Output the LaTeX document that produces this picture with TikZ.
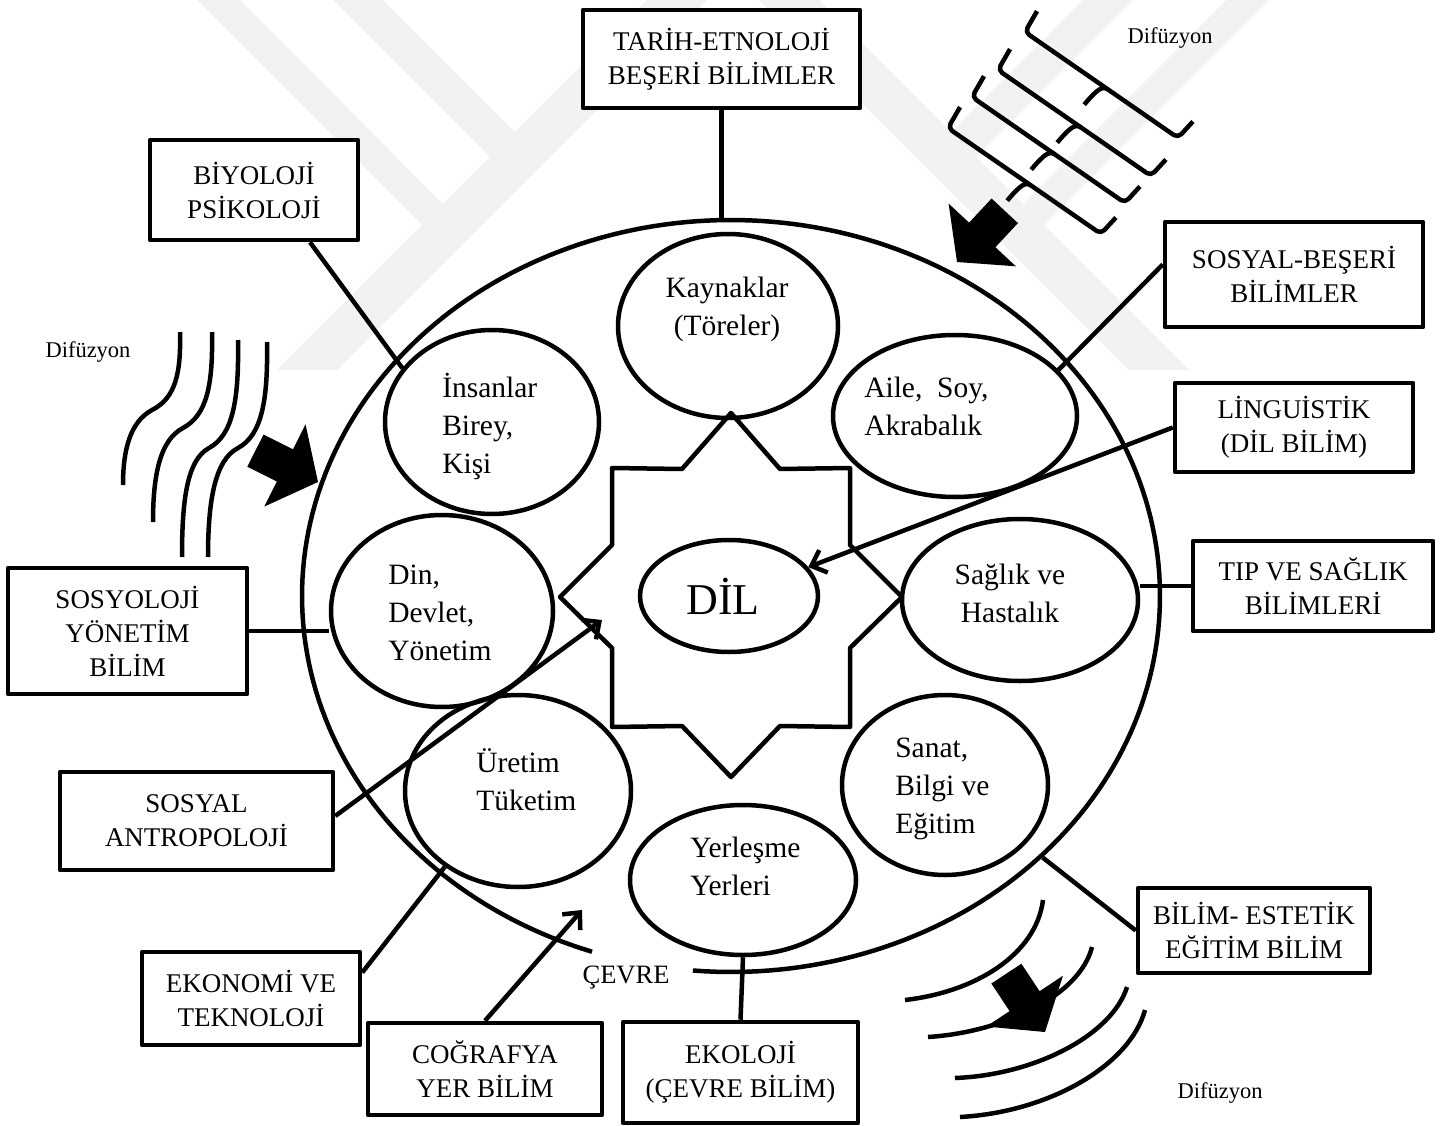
\documentclass[tikz,border=0pt]{standalone}
\usepackage{fontspec}
\setmainfont{Liberation Serif}
\usetikzlibrary{shapes.geometric,arrows.meta,calc}

% solid block arrow: tip at #1, pointing in direction #2 (degrees)
\newcommand{\dfarrow}[2]{%
  \fill[shift={#1}, rotate=#2] (0pt,0pt) -- (-37pt,46pt) -- (-37pt,18pt) -- (-70pt,18pt)
    -- (-70pt,-18pt) -- (-37pt,-18pt) -- (-37pt,-46pt) -- cycle;}
% square brace used for the diffusion wave front, corner at #1
\newcommand{\dfbrace}[1]{%
  \draw[shift={#1}, rotate=-34.7, rounded corners=5pt]
    (-2pt,24pt) -- (0pt,0pt) -- (186pt,0pt) -- (189pt,22pt);
  \draw[shift={#1}, rotate=-34.7]
    (101pt,0pt) .. controls (94pt,0pt) and (92pt,-6pt) .. (90pt,-26pt);}

\begin{document}
\begin{tikzpicture}[x=1pt, y=-1pt, line width=4.5pt, line join=round,
  box/.style={draw, fill=white, rectangle, inner sep=0pt, align=center,
    font=\fontsize{27}{34}\selectfont},
  oval/.style={draw, ellipse, inner sep=0pt},
  otext/.style={inner sep=0pt, align=left, font=\fontsize{29.5}{38}\selectfont},
  ctext/.style={inner sep=0pt, align=center, font=\fontsize{29.5}{38}\selectfont},
  dftext/.style={inner sep=0pt, font=\fontsize{22.5}{27}\selectfont},
  arr/.style={-{Straight Barb[length=13pt,width=24pt]}},
  wmark/.style={fill=black!5, draw=none}]

\useasboundingbox (0,0) rectangle (1443,1126);
\fill[white] (0,0) rectangle (1443,1126);

% faint background emblem (symmetric about x = 733)
\fill[wmark] (197,0) -- (240,0) -- (443,204) -- (422,225) -- cycle;
\fill[wmark] (333,0) -- (383,0) -- (515,132) -- (490,157) -- cycle;
\fill[wmark] (277,370) -- (337,370) -- (707,0) -- (647,0) -- cycle;
\fill[wmark] (1269,0) -- (1226,0) -- (1023,204) -- (1044,225) -- cycle;
\fill[wmark] (1133,0) -- (1083,0) -- (951,132) -- (976,157) -- cycle;
\fill[wmark] (1189,370) -- (1129,370) -- (759,0) -- (819,0) -- cycle;

% environment (outer ellipse, open at the label)
\node[ellipse, minimum width=858pt, minimum height=752pt, inner sep=0pt] (env) at (731,596) {};
\draw plot[domain=108.9:455.1, samples=240] ({731+429*cos(\x)},{596+376*sin(\x)});
\node[inner sep=0pt, font=\fontsize{26.5}{30}\selectfont] (cevre) at (626,978) {ÇEVRE};

% eight-pointed star
\draw (731,413) -- (682,469) -- (612,468) -- (612,545) -- (560,597) -- (612,648)
  -- (612,727) -- (682,726) -- (731,777) -- (780,726) -- (850,727) -- (850,648)
  -- (902,597) -- (850,545) -- (850,468) -- (780,469) -- cycle;

% inner ellipses
\node[oval, minimum width=220pt, minimum height=184pt] (kayn) at (728,326) {};
\node[ctext] (kaynt) at (727,309) {Kaynaklar\\(Töreler)};
\node[oval, minimum width=214pt, minimum height=184pt] (insan) at (492,422) {};
\node[otext, anchor=west] (insant) at (440,426) {İnsanlar\\Birey,\\Kişi};
\node[oval, minimum width=244pt, minimum height=162pt] (aile) at (955,416) {};
\node[otext, anchor=west] (ailet) at (862,406) {Aile,\ \ Soy,\\Akrabalık};
\node[oval, minimum width=222pt, minimum height=192pt] (din) at (442,611) {};
\node[otext, anchor=west] (dint) at (386,613) {Din,\\Devlet,\\Yönetim};
\node[oval, minimum width=236pt, minimum height=162pt] (saglik) at (1020,600) {};
\node[ctext] (saglikt) at (1010,593) {Sağlık ve\\Hastalık};
\node[oval, minimum width=226pt, minimum height=192pt] (uretim) at (518,791) {};
\node[otext, anchor=west] (uretimt) at (474,780) {Üretim\\Tüketim};
\node[oval, minimum width=206pt, minimum height=180pt] (sanat) at (945,785) {};
\node[otext, anchor=west] (sanatt) at (893,789) {Sanat,\\Bilgi ve\\Eğitim};
\node[oval, minimum width=226pt, minimum height=150pt] (yerl) at (743,880) {};
\node[otext, anchor=west] (yerlt) at (688,866) {Yerleşme\\Yerleri};
\node[oval, minimum width=178pt, minimum height=112pt] (dil) at (729,596) {};
\node[inner sep=0pt, font=\fontsize{44}{44}\selectfont] (dilt) at (723,596) {DİL};

% disciplines
\node[box, minimum width=277pt, minimum height=98pt] (tarih) at (721.5,59) {TARİH-ETNOLOJİ\\BEŞERİ BİLİMLER};
\node[box, minimum width=208pt, minimum height=100pt] (biyo) at (254,190) {BİYOLOJİ\\PSİKOLOJİ};
\node[box, minimum width=258pt, minimum height=105pt] (sosyalb) at (1294,274.5) {SOSYAL-BEŞERİ\\BİLİMLER};
\node[box, minimum width=238pt, minimum height=89pt] (ling) at (1294,427.5) {LİNGUİSTİK\\(DİL BİLİM)};
\node[box, minimum width=240pt, minimum height=90pt] (tipb) at (1313,586) {TIP VE SAĞLIK\\BİLİMLERİ};
\node[box, minimum width=239pt, minimum height=126pt] (sosyo) at (127.5,631) {SOSYOLOJİ\\YÖNETİM\\BİLİM};
\node[box, minimum width=273pt, minimum height=98pt] (antro) at (196.5,821) {SOSYAL\\ANTROPOLOJİ};
\node[box, minimum width=218pt, minimum height=93pt] (ekon) at (251,998.5) {EKONOMİ VE\\TEKNOLOJİ};
\node[box, minimum width=234pt, minimum height=92pt] (cog) at (485,1069) {COĞRAFYA\\YER BİLİM};
\node[box, minimum width=235pt, minimum height=101pt] (ekol) at (740.5,1072.5) {EKOLOJİ\\(ÇEVRE BİLİM)};
\node[box, minimum width=232pt, minimum height=85pt] (bilim) at (1254,930.5) {BİLİM- ESTETİK\\EĞİTİM BİLİM};

% connectors
\coordinate (antroend) at (602,620);
\coordinate (cogend) at (582,910);
\draw (tarih.south) -- (tarih.south |- env.north);
\draw ([xshift=56pt]biyo.south) -- (insan.149);
\draw ([yshift=10pt]sosyalb.west) -- (aile.24);
\draw[arr] (ling.west) -- (dil.20);
\draw (tipb.west) -- (tipb.west -| saglik.east);
\draw (sosyo.east) -- (sosyo.east -| din.west);
\draw[arr] ([yshift=5pt]antro.east) -- (antroend);
\draw ([yshift=26pt]ekon.east) -- (uretim.226);
\draw[arr] (cog.north) -- (cogend);
\draw (ekol.north) -- (yerl.south);
\draw (bilim.west) -- (env.-40.8);

% diffusion, upper right
\node[dftext] (df1) at (1170,38) {Difüzyon};
\dfbrace{(1025,32)}
\dfbrace{(998,70)}
\dfbrace{(972,97)}
\dfbrace{(948,128)}
\dfarrow{(957,262)}{227}

% diffusion, left
\node[dftext] (df2) at (88,352) {Difüzyon};
\draw (180,332) .. controls (181,372) and (176,398) .. (152,410) .. controls (130,422) and (123,450) .. (123,485);
\draw (212,332) .. controls (213,385) and (207,415) .. (183,428) .. controls (160,440) and (153,475) .. (153,522);
\draw (238,340) .. controls (239,400) and (233,435) .. (209,448) .. controls (187,460) and (182,500) .. (182,557);
\draw (267,342) .. controls (268,400) and (262,435) .. (238,448) .. controls (215,460) and (208,500) .. (208,557);
\dfarrow{(318,482)}{-26.6}

% diffusion, lower right
\node[dftext] (df3) at (1220,1093) {Difüzyon};
\draw (1043,900) .. controls (1036,955) and (975,992) .. (905,1000);
\draw (1092,947) .. controls (1080,995) and (1005,1032) .. (928,1037);
\draw (1127,987) .. controls (1112,1035) and (1035,1075) .. (955,1078);
\draw (1145,1010) .. controls (1130,1065) and (1050,1112) .. (960,1117);
\dfarrow{(1045,1032)}{-56.5}

\end{tikzpicture}
\end{document}
